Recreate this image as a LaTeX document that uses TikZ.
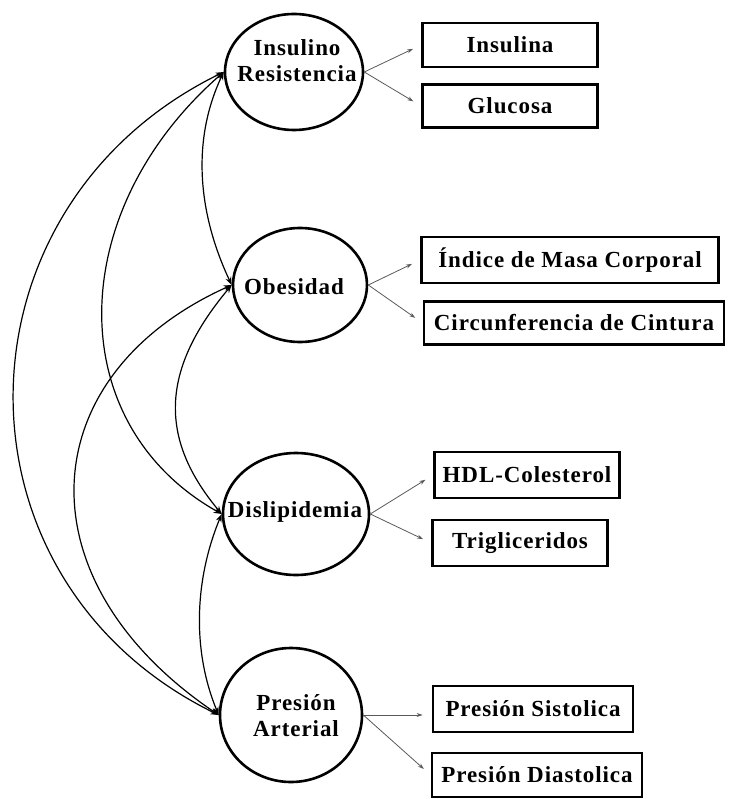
\documentclass[tikz,border=0pt]{standalone}
\usepackage{fontspec}
\setmainfont{Liberation Serif}[LetterSpace=4]
\usetikzlibrary{shapes.geometric,arrows.meta}
\begin{document}
\begin{tikzpicture}[x=1pt,y=-1pt,
  lat/.style={ellipse,draw,line width=2.6pt,inner sep=0pt},
  lbl/.style={font=\bfseries\fontsize{23}{26}\selectfont,align=center,inner sep=0pt},
  obs/.style={rectangle,draw,line width=2.8pt,inner sep=0pt,font=\bfseries\fontsize{23}{26}\selectfont},
  ind/.style={-{Stealth[length=6pt,width=4pt]},line width=0.8pt,black!65,shorten >=9pt},
  cov/.style={{Stealth[length=8pt,width=6pt]}-{Stealth[length=8pt,width=6pt]},line width=1.2pt}]
\useasboundingbox (0,0) rectangle (728,799);
% latent variables
\node[lat,minimum width=138pt,minimum height=116pt] (IR) at (294,72) {};
\node[lbl] (IRt) at (297,61) {Insulino\\Resistencia};
\node[lat,minimum width=134pt,minimum height=114pt] (OB) at (300,285) {};
\node[lbl] (OBt) at (294,287) {Obesidad};
\node[lat,minimum width=146pt,minimum height=122pt] (DI) at (296,514) {};
\node[lbl] (DIt) at (295,512) {Dislipidemia};
\node[lat,minimum width=142pt,minimum height=134pt] (PA) at (291,715) {};
\node[lbl] (PAt) at (296,716) {Presión\\Arterial};
% observed variables
\node[obs,minimum width=175pt,minimum height=44pt] (ins) at (510,45) {Insulina};
\node[obs,minimum width=175pt,minimum height=43pt] (glu) at (510,106) {Glucosa};
\node[obs,minimum width=297pt,minimum height=46pt] (imc) at (570,260) {Índice de Masa Corporal};
\node[obs,minimum width=300pt,minimum height=43pt] (cc) at (574,323) {Circunferencia de Cintura};
\node[obs,minimum width=185pt,minimum height=46pt] (hdl) at (527,475) {HDL-Colesterol};
\node[obs,minimum width=175pt,minimum height=46pt] (tg) at (520,543) {Trigliceridos};
\node[obs,minimum width=200pt,minimum height=46pt] (ps) at (533,709) {Presión Sistolica};
\node[obs,minimum width=210pt,minimum height=44pt] (pd) at (537,775) {Presión Diastolica};
% indicator arrows
\draw[ind] (IR.east) -- (ins.west);
\draw[ind] (IR.east) -- (glu.west);
\draw[ind] (OB.east) -- (imc.west);
\draw[ind] (OB.east) -- (cc.west);
\draw[ind] (DI.east) -- (hdl.west);
\draw[ind] (DI.east) -- (tg.west);
\draw[ind] (PA.east) -- (PA.east -| ps.west);
\draw[ind] (PA.east) -- (pd.west);
% covariances
\draw[cov] (IR.west) .. controls +(-276,135) and +(-276,-135) .. (PA.west);
\draw[cov] (IR.west) .. controls +(-160,140) and +(-160,-90) .. (DI.west);
\draw[cov] (IR.west) .. controls +(-33,70) and +(-33,-70) .. (OB.west);
\draw[cov] (OB.west) .. controls +(-200,90) and +(-200,-135) .. (PA.west);
\draw[cov] (OB.west) .. controls +(-67,80) and +(-67,-80) .. (DI.west);
\draw[cov] (DI.west) .. controls +(-27,65) and +(-27,-65) .. (PA.west);
\end{tikzpicture}
\end{document}
